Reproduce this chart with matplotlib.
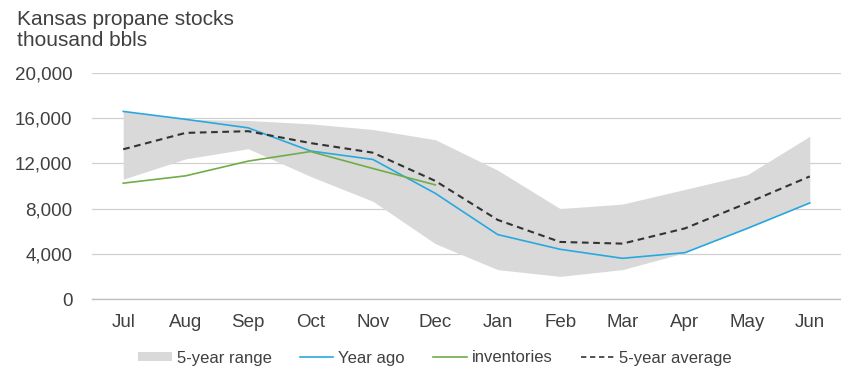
import matplotlib
matplotlib.use("Agg")
import matplotlib.pyplot as plt
from matplotlib.patches import Patch
from matplotlib.lines import Line2D
from matplotlib.ticker import FuncFormatter

# Kansas propane stocks, thousand barrels, July through June
months = ["Jul", "Aug", "Sep", "Oct", "Nov", "Dec",
          "Jan", "Feb", "Mar", "Apr", "May", "Jun"]
range_low = [10600, 12400, 13300, 10850, 8650, 4900,
             2600, 2000, 2600, 4100, 6250, 8500]
range_high = [16600, 15900, 15800, 15500, 15000, 14100,
              11400, 8000, 8400, 9700, 11000, 14400]
year_ago = [16600, 15900, 15150, 13100, 12350, 9350,
            5700, 4400, 3600, 4100, 6250, 8500]
inventories = [10250, 10900, 12200, 13050, 11550, 10100]
five_year_avg = [13250, 14700, 14850, 13800, 12950, 10450,
                 7000, 5050, 4900, 6250, 8500, 10850]
y_ticks = [0, 4000, 8000, 12000, 16000, 20000]

TEXT = "#404040"
plt.rcParams["font.family"] = ["Liberation Sans", "DejaVu Sans"]

fig = plt.figure(figsize=(8.41, 3.66), dpi=100)
ax = fig.add_axes([92 / 841, 1 - 299 / 366, 1 - 92 / 841, (299 - 73) / 366])

x = list(range(len(months)))
ax.fill_between(x, range_low, range_high, color="#d9d9d9", lw=0, zorder=2)
ax.plot(x, year_ago, color="#29a8e0", lw=1.2, zorder=3)
ax.plot(x[:len(inventories)], inventories, color="#70ad47", lw=1.2, zorder=4)
ax.plot(x, five_year_avg, color="#333333", lw=1.5, ls=(0, (3.2, 2.2)), zorder=5)

ax.set_xlim(-0.5, len(months) - 0.5)
ax.set_ylim(0, 20000)
ax.set_yticks(y_ticks)
ax.yaxis.set_major_formatter(FuncFormatter(lambda v, _: f"{int(v):,}"))
ax.set_xticks(x)
ax.set_xticklabels(months)
ax.grid(axis="y", color="#d0d0d0", lw=0.9, zorder=0)
ax.set_axisbelow(True)
for side in ("top", "right", "left"):
    ax.spines[side].set_visible(False)
ax.spines["bottom"].set_color("#bfbfbf")
ax.spines["bottom"].set_linewidth(1.0)
ax.tick_params(axis="both", length=0, labelsize=13.5, colors=TEXT)
ax.tick_params(axis="y", pad=14)
ax.tick_params(axis="x", pad=11)

fig.text(17 / 841, 1 - 10 / 366, "Kansas propane stocks\nthousand bbls",
         ha="left", va="top", fontsize=15, color=TEXT, linespacing=1.12)

handles = [
    Patch(facecolor="#d9d9d9", edgecolor="none"),
    Line2D([], [], color="#29a8e0", lw=1.2),
    Line2D([], [], color="#70ad47", lw=1.2),
    Line2D([], [], color="#333333", lw=1.2, ls=(0, (3.2, 2.2))),
]
labels = ["5-year range", "Year ago", "inventories", "5-year average"]
fig.legend(handles, labels, loc="center", ncol=4, frameon=False,
           bbox_to_anchor=(435 / 841, 1 - 358 / 366), fontsize=12,
           labelcolor=TEXT, handlelength=2.0, handleheight=0.45,
           handletextpad=0.3, columnspacing=1.7)

fig.savefig("out.png", dpi=100)
